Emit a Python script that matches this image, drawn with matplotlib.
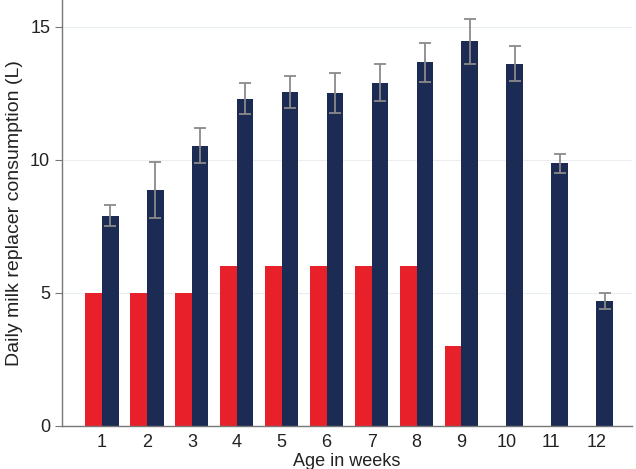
import matplotlib
matplotlib.use("Agg")
import matplotlib.pyplot as plt
import numpy as np

plt.rcParams['font.family'] = ['Liberation Sans', 'DejaVu Sans']

weeks = [1, 2, 3, 4, 5, 6, 7, 8, 9, 10, 11, 12]
# offered (red) and consumed (navy) milk replacer, L/day
offered = [5, 5, 5, 6, 6, 6, 6, 6, 3, 0, 0, 0]
consumed = [7.9, 8.85, 10.53, 12.3, 12.55, 12.5, 12.9, 13.66, 14.45, 13.6, 9.86, 4.7]
consumed_err = [0.4, 1.05, 0.66, 0.6, 0.6, 0.74, 0.7, 0.74, 0.85, 0.66, 0.37, 0.3]

fig = plt.figure(figsize=(6.36, 4.69), dpi=100)
ax = fig.add_axes([0.0975, 0.0917, 0.8965, 0.9083])

x = np.array(weeks)
w = 0.37
ax.bar(x - w / 2, offered, width=w, color='#E8202A', zorder=2)
ax.bar(x + w / 2, consumed, width=w, color='#1C2B54', zorder=2,
       yerr=consumed_err, ecolor='#8A8A8A',
       error_kw=dict(capsize=4, elinewidth=1.3, capthick=1.3))

ax.set_xlim(0.11, 12.8)
ax.set_ylim(0, 16)
ax.set_xticks(weeks)
ax.set_yticks([0, 5, 10, 15])
ax.yaxis.grid(True, color='#EAEEF0', linewidth=0.8, zorder=0)
ax.set_axisbelow(True)
for s in ['top', 'right']:
    ax.spines[s].set_visible(False)
for s in ['left', 'bottom']:
    ax.spines[s].set_color('#777777')
    ax.spines[s].set_linewidth(1.0)
ax.tick_params(axis='both', colors='#777777', labelcolor='#222222', labelsize=13)
ax.tick_params(axis='x', length=0, pad=6)
ax.tick_params(axis='y', length=5)

ax.set_xlabel('Age in weeks', fontsize=13, color='#222222', labelpad=1)
ax.set_ylabel('Daily milk replacer consumption (L)', fontsize=14, color='#222222', labelpad=5)

fig.savefig('out.png', dpi=100)
